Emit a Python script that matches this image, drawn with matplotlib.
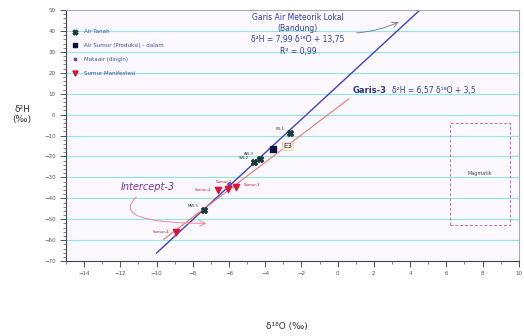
import matplotlib
matplotlib.use('Agg')
import matplotlib.pyplot as plt
import numpy as np

# --- data ---
air_tanah_x = [-2.65, -4.3, -4.6, -7.4]
air_tanah_y = [-9.0, -21.0, -22.5, -45.8]
air_tanah_lbl = ['PB-1', 'AW-3', 'SW-2', 'MW-5']

sumur_x = [-3.57]
sumur_y = [-16.2]

mataair_x = [-6.0]
mataair_y = [-33.0]

manif_x = [-6.6, -6.05, -5.6, -8.9]
manif_y = [-36.2, -35.4, -34.6, -56.2]
manif_lbl = ['Sumur-2', 'Sumur-1', 'Sumur-3', 'Sumur-4']

# meteoric water line and Garis-3 (slope, intercept, x range)
gmwl_coef = (7.99, 13.75)
gmwl_xr = [-10.0, 4.6]
garis3_coef = (6.57, 3.5)
garis3_xr = [-9.6, 0.6]

# magmatic box: x0, x1, y0, y1
magma_box = [6.2, 9.5, -52.9, -3.8]

fig = plt.figure(figsize=(5.24, 3.36), dpi=100)
ax = fig.add_axes([0.126, 0.223, 0.864, 0.747])
ax.set_facecolor('#fbf8ff')
ax.set_xlim(-15, 10)
ax.set_ylim(-70, 50)

for yy in range(-60, 50, 10):
    ax.axhline(yy, color='#8ee6e6', lw=0.8, zorder=0)

gx = np.array(gmwl_xr)
ax.plot(gx, gmwl_coef[0] * gx + gmwl_coef[1], color='#4040c8', lw=1.0, zorder=2)
rx = np.array(garis3_xr)
ax.plot(rx, garis3_coef[0] * rx + garis3_coef[1], color='#f07a6a', lw=0.8, zorder=2)

ax.scatter(air_tanah_x, air_tanah_y, marker='X', s=18, color='#1d3b3b',
           zorder=4, label='Air Tanah')
ax.scatter(sumur_x, sumur_y, marker='s', s=16, color='#101040',
           zorder=4, label='Air Sumur (Produksi) - dalam')
ax.scatter(mataair_x, mataair_y, marker='o', s=5, color='#7040c0',
           zorder=4, label='Mataair (dingin)')
ax.scatter(manif_x, manif_y, marker='v', s=20, color='#e01030',
           zorder=4, label='Sumur Manifestasi')

for x, y, t in zip(air_tanah_x, air_tanah_y, air_tanah_lbl):
    ax.text(x - 0.3, y + 1.5, t, fontsize=2.8, color='#224444', ha='right')

# label offsets (dx, dy, ha) for manifestation wells
manif_off = [(-0.4, 0.0, 'right'), (-0.2, 3.0, 'center'),
             (0.4, 1.2, 'left'), (-0.4, 0.0, 'right')]
for x, y, t, (dx, dy, ha) in zip(manif_x, manif_y, manif_lbl, manif_off):
    ax.text(x + dx, y + dy, t, fontsize=2.8, color='#aa2030', ha=ha,
            va='center')

ax.text(-3.0, -14.8, 'E3', fontsize=5, color='#303060', va='center',
        bbox=dict(boxstyle='square,pad=0.15', fc='#fbf0d8', ec='#e0c8a0', lw=0.4))

# magmatic box
bx0, bx1, by0, by1 = magma_box
ax.plot([bx0, bx1, bx1, bx0, bx0], [by0, by0, by1, by1, by0],
        color='#c070c0', lw=0.7, ls=(0, (3, 2)))
ax.text((bx0 + bx1) / 2, -28, 'Magmatik', fontsize=3.5, color='#444444',
        ha='center', va='center')

# annotations
ax.text(-2.2, 48.5, 'Garis Air Meteorik Lokal\n(Bandung)\nδ²H = 7,99 δ¹⁸O + 13,75\nR² = 0,99',
        fontsize=5.5, color='#3040a0', ha='center', va='top', linespacing=1.3)
ax.annotate('', xy=(3.5, 44.8), xytext=(0.9, 39),
            arrowprops=dict(arrowstyle='->', color='#777777', lw=0.6,
                            connectionstyle='arc3,rad=0.1'))
ax.text(0.8, 11.4, 'Garis-3', fontsize=6, color='#2a3a80',
        fontweight='bold', va='center')
ax.text(3.0, 11.4, 'δ²H = 6,57 δ¹⁸O + 3,5', fontsize=5.5, color='#3040a0',
        va='center')
ax.text(-10.5, -34.8, 'Intercept-3', fontsize=7, color='#8030a0',
        style='italic', ha='center', va='center')
ax.annotate('', xy=(-7.1, -52), xytext=(-11.0, -38.5),
            arrowprops=dict(arrowstyle='->', color='#f08aa0', lw=0.7,
                            connectionstyle='angle3,angleA=-140,angleB=0'))

# axes cosmetics
ax.set_xticks(np.arange(-14, 11, 2))
ax.set_xticks(np.arange(-15, 11, 1), minor=True)
ax.set_yticks(np.arange(-70, 51, 10))
ax.set_yticks(np.arange(-70, 51, 2), minor=True)
ax.tick_params(labelsize=4, colors='#555555', length=4, width=0.7)
ax.tick_params(which='minor', length=2, width=0.5, colors='#555555')
for s in ['top', 'right']:
    ax.spines[s].set_color('#aaaaaa')
for s in ['left', 'bottom']:
    ax.spines[s].set_color('#444444')

ax.legend(loc='upper left', bbox_to_anchor=(0.0, 0.94), frameon=False,
          fontsize=4, handletextpad=0.6, labelspacing=1.6, markerscale=0.8,
          labelcolor='#4050a0', borderaxespad=0.3)

fig.text(0.042, 0.66, 'δ²H\n(‰)', fontsize=6.5, ha='center', va='center',
         color='#333333')
fig.text(0.548, 0.027, 'δ¹⁸O (‰)', fontsize=6.5, ha='center', va='center',
         color='#333333')

fig.savefig('out.png', dpi=100)
